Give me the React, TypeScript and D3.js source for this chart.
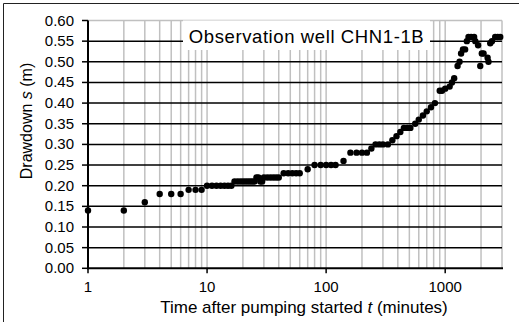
import React from "react";
import * as d3 from "d3";

// time after pumping started (minutes)
const times = [
  1, 2, 3, 4, 5, 6, 7, 8, 9, 10, 11, 12, 13, 14, 15, 16, 17, 18, 19, 20, 21,
  22, 23, 24, 25, 26, 27, 28, 29, 30, 32, 34, 36, 38, 40, 44, 48, 52, 56, 60,
  70, 80, 90, 100, 110, 120, 140, 160, 180, 200, 220, 240, 260, 280, 300, 330,
  360, 390, 420, 450, 480, 510, 560, 600, 650, 700, 760, 820, 900, 940, 1000,
  1090, 1140, 1190, 1270, 1320, 1360, 1410, 1470, 1520, 1570, 1650, 1750, 1790,
  1890, 1970, 2030, 2100, 2270, 2310, 2390, 2470, 2630, 2760, 2900,
];

// drawdown s (m)
const drawdown = [
  0.14, 0.14, 0.16, 0.18, 0.18, 0.18, 0.19, 0.19, 0.19, 0.2, 0.2, 0.2, 0.2,
  0.2, 0.2, 0.2, 0.21, 0.21, 0.21, 0.21, 0.21, 0.21, 0.21, 0.21, 0.21, 0.22,
  0.22, 0.21, 0.21, 0.22, 0.22, 0.22, 0.22, 0.22, 0.22, 0.23, 0.23, 0.23, 0.23,
  0.23, 0.24, 0.25, 0.25, 0.25, 0.25, 0.25, 0.26, 0.28, 0.28, 0.28, 0.28, 0.29,
  0.3, 0.3, 0.3, 0.3, 0.31, 0.32, 0.33, 0.34, 0.34, 0.34, 0.35, 0.36, 0.37,
  0.38, 0.39, 0.4, 0.43, 0.43, 0.435, 0.44, 0.45, 0.46, 0.49, 0.5, 0.52, 0.53,
  0.53, 0.55, 0.56, 0.56, 0.56, 0.55, 0.54, 0.49, 0.52, 0.52, 0.51, 0.5, 0.545,
  0.55, 0.56, 0.56, 0.56,
];

const xMajor = [1, 10, 100, 1000];
const yTicks = [0, 0.05, 0.1, 0.15, 0.2, 0.25, 0.3, 0.35, 0.4, 0.45, 0.5, 0.55, 0.6];

const W = 519;
const H = 322;
const font = "'Liberation Sans', Arial, sans-serif";

export default function App() {
  const left = 88;
  const right = 502;
  const top = 20.5;
  const bottom = 268.3;

  const x = d3.scaleLog().domain([1, 3000]).range([left, right]);
  const y = d3.scaleLinear().domain([0, 0.6]).range([bottom, top]);

  const minor = x.ticks().filter((t) => t > 1 && t < 3000);

  // title box
  const box = { x0: 183, x1: 430, y0: top, y1: 50 };

  return (
    <div style={{ position: "absolute", left: 0, top: 0 }}>
      <svg width={W} height={H} style={{ display: "block", background: "#fff" }}>
        {/* outer frame */}
        <line x1={3.5} x2={W} y1={3.5} y2={3.5} stroke="#222" strokeWidth={1} />
        <line x1={3.5} x2={3.5} y1={3.5} y2={H} stroke="#222" strokeWidth={1} />

        {/* vertical gray grid */}
        {minor.map((t) => (
          <line
            key={"v" + t}
            x1={x(t)}
            x2={x(t)}
            y1={x(t) > box.x0 && x(t) < box.x1 ? box.y1 : top}
            y2={bottom}
            stroke="#c0c0c0"
            strokeWidth={1.5}
          />
        ))}
        {/* plot border top/right */}
        <line x1={left} x2={right} y1={y(0.6)} y2={y(0.6)} stroke="#c0c0c0" strokeWidth={1.5} />
        <line x1={right} x2={right} y1={top} y2={bottom} stroke="#c0c0c0" strokeWidth={1.5} />

        {/* horizontal black grid */}
        {yTicks
          .filter((v) => v > 0 && v < 0.6)
          .map((v) => (
            <line
              key={"h" + v}
              x1={left}
              x2={right}
              y1={y(v)}
              y2={y(v)}
              stroke="#000"
              strokeWidth={1.5}
            />
          ))}

        {/* title box */}
        <rect x={box.x0} y={box.y0} width={box.x1 - box.x0} height={box.y1 - box.y0} fill="#fff" />
        <text
          x={306.5}
          y={42.5}
          textAnchor="middle"
          fontFamily={font}
          fontSize={18.5}
          letterSpacing={0.6}
          fill="#000"
        >
          Observation well CHN1-1B
        </text>

        {/* axes */}
        <line x1={left} x2={left} y1={top} y2={bottom + 1} stroke="#000" strokeWidth={2} />
        <line x1={left - 1} x2={right + 1} y1={bottom} y2={bottom} stroke="#000" strokeWidth={2} />
        {yTicks.map((v) => (
          <g key={"yt" + v}>
            <line x1={left - 6} x2={left} y1={y(v)} y2={y(v)} stroke="#000" strokeWidth={1.5} />
            <text
              x={74}
              y={y(v) + 5}
              textAnchor="end"
              fontFamily={font}
              fontSize={15}
              fill="#000"
            >
              {v.toFixed(2)}
            </text>
          </g>
        ))}
        {xMajor.map((t) => (
          <g key={"xt" + t}>
            <line x1={x(t)} x2={x(t)} y1={bottom} y2={bottom + 5} stroke="#000" strokeWidth={1.5} />
            <text
              x={x(t)}
              y={292}
              textAnchor="middle"
              fontFamily={font}
              fontSize={15}
              fill="#000"
            >
              {t}
            </text>
          </g>
        ))}

        {/* points */}
        {times.map((t, i) => (
          <circle key={"p" + i} cx={x(t)} cy={y(drawdown[i])} r={3.2} fill="#000" />
        ))}

        {/* axis titles */}
        <text x={304} y={313} textAnchor="middle" fontFamily={font} fontSize={17} fill="#000">
          Time after pumping started <tspan fontStyle="italic">t</tspan> (minutes)
        </text>
        <text
          transform="translate(31.5,121) rotate(-90)"
          textAnchor="middle"
          fontFamily={font}
          fontSize={16}
          fill="#000"
        >
          Drawdown <tspan fontStyle="italic">s</tspan> (m)
        </text>
      </svg>
    </div>
  );
}
